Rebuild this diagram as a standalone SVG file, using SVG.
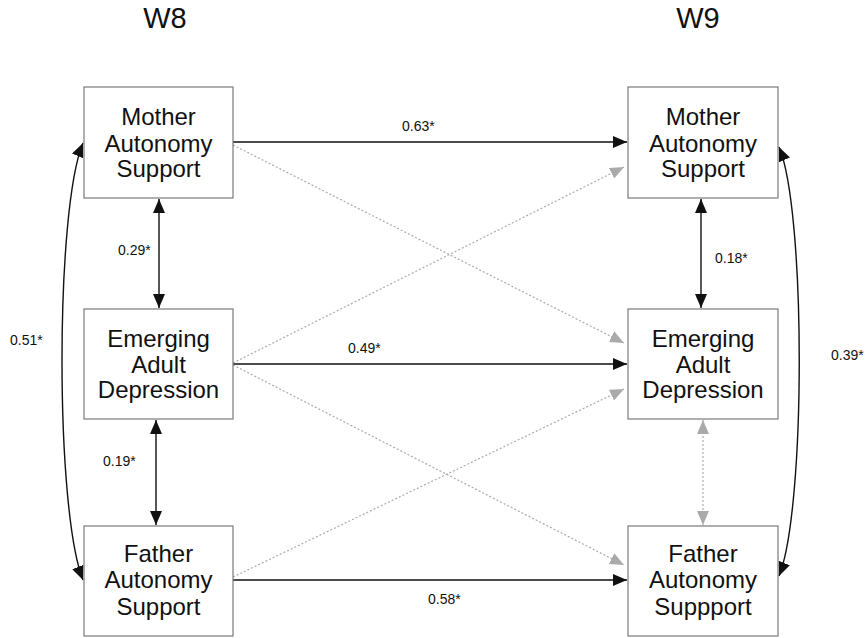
<svg xmlns="http://www.w3.org/2000/svg" width="866" height="638" viewBox="0 0 866 638">
<defs>
<style>
.box{fill:#fff;stroke:#7a7a7a;stroke-width:1.2}
.nt{font-family:"Liberation Sans",Arial,sans-serif;font-size:24px;fill:#111;text-anchor:middle}
.ttl{font-family:"Liberation Sans",Arial,sans-serif;font-size:29px;fill:#111;text-anchor:middle}
.lbl{font-family:"Liberation Sans",Arial,sans-serif;font-size:14px;fill:#111}
.sol{fill:none;stroke:#111;stroke-width:1.4}
.dot{fill:none;stroke:#aaa;stroke-width:1.2;stroke-dasharray:2 2}
</style>
<marker id="ab" viewBox="0 0 14 12" refX="14" refY="6" markerWidth="14" markerHeight="12" markerUnits="userSpaceOnUse" orient="auto-start-reverse">
<path d="M0,0 L14,6 L0,12 z" fill="#111"/>
</marker>
<marker id="ag" viewBox="0 0 14 12" refX="14" refY="6" markerWidth="14" markerHeight="12" markerUnits="userSpaceOnUse" orient="auto-start-reverse">
<path d="M0,0 L14,6 L0,12 z" fill="#aaa"/>
</marker>
</defs>
<rect width="866" height="638" fill="#fff"/>
<text class="ttl" x="165" y="28">W8</text>
<text class="ttl" x="698" y="28">W9</text>
<g id="connectors">
<line class="sol" x1="233" y1="142" x2="627" y2="142" marker-end="url(#ab)"/>
<line class="sol" x1="233" y1="364" x2="627" y2="364" marker-end="url(#ab)"/>
<line class="sol" x1="233" y1="580" x2="627" y2="580" marker-end="url(#ab)"/>
<line class="dot" x1="233" y1="145" x2="624" y2="343" marker-end="url(#ag)"/>
<line class="dot" x1="233" y1="363" x2="624" y2="167" marker-end="url(#ag)"/>
<line class="dot" x1="233" y1="365" x2="624" y2="565" marker-end="url(#ag)"/>
<line class="dot" x1="233" y1="577" x2="624" y2="389" marker-end="url(#ag)"/>
<line class="sol" x1="159" y1="199" x2="159" y2="308" marker-start="url(#ab)" marker-end="url(#ab)"/>
<line class="sol" x1="156" y1="420" x2="156" y2="525" marker-start="url(#ab)" marker-end="url(#ab)"/>
<line class="sol" x1="701" y1="199" x2="701" y2="308" marker-start="url(#ab)" marker-end="url(#ab)"/>
<line class="dot" x1="703" y1="420" x2="703" y2="525" marker-start="url(#ag)" marker-end="url(#ag)"/>
<path class="sol" d="M83,143 C55,210 55,510 83,580" marker-start="url(#ab)" marker-end="url(#ab)"/>
<path class="sol" d="M779,147 C806,210 806,510 779,576" marker-start="url(#ab)" marker-end="url(#ab)"/>
<text class="lbl" x="402" y="131">0.63*</text>
<text class="lbl" x="348" y="353">0.49*</text>
<text class="lbl" x="428" y="604">0.58*</text>
<text class="lbl" x="118" y="255">0.29*</text>
<text class="lbl" x="103" y="466">0.19*</text>
<text class="lbl" x="715" y="263">0.18*</text>
<text class="lbl" x="10" y="345">0.51*</text>
<text class="lbl" x="831" y="360">0.39*</text>
</g>
<g id="mother-w8">
<rect class="box" x="84" y="87" width="149" height="111"/>
<text class="nt" x="158.5" y="125">Mother</text>
<text class="nt" x="158.5" y="152">Autonomy</text>
<text class="nt" x="158.5" y="177">Support</text>
</g>
<g id="ead-w8">
<rect class="box" x="84" y="309" width="149" height="110"/>
<text class="nt" x="158.5" y="347">Emerging</text>
<text class="nt" x="158.5" y="373">Adult</text>
<text class="nt" x="158.5" y="398">Depression</text>
</g>
<g id="father-w8">
<rect class="box" x="84" y="526" width="149" height="110"/>
<text class="nt" x="158.5" y="562">Father</text>
<text class="nt" x="158.5" y="588">Autonomy</text>
<text class="nt" x="158.5" y="615">Support</text>
</g>
<g id="mother-w9">
<rect class="box" x="628" y="87" width="150" height="111"/>
<text class="nt" x="703" y="125">Mother</text>
<text class="nt" x="703" y="152">Autonomy</text>
<text class="nt" x="703" y="177">Support</text>
</g>
<g id="ead-w9">
<rect class="box" x="628" y="309" width="150" height="110"/>
<text class="nt" x="703" y="347">Emerging</text>
<text class="nt" x="703" y="373">Adult</text>
<text class="nt" x="703" y="398">Depression</text>
</g>
<g id="father-w9">
<rect class="box" x="628" y="526" width="150" height="110"/>
<text class="nt" x="703" y="562">Father</text>
<text class="nt" x="703" y="588">Autonomy</text>
<text class="nt" x="703" y="615">Suppport</text>
</g>
</svg>
